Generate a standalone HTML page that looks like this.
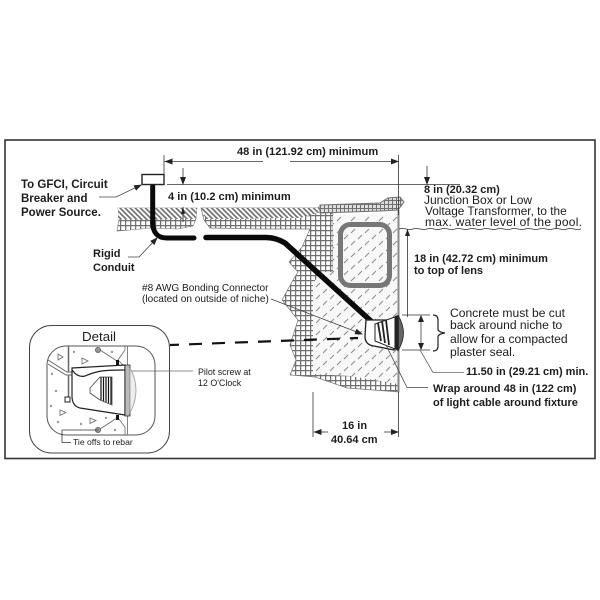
<!DOCTYPE html>
<html><head><meta charset="utf-8"><style>
html,body{margin:0;padding:0;background:#fff}
svg{display:block;filter:blur(.3px)}
text{font-family:"Liberation Sans",sans-serif;fill:#1c1c1c}
.b{font-weight:bold}
</style></head><body>
<svg width="600" height="600" viewBox="0 0 600 600" xmlns="http://www.w3.org/2000/svg">
<defs>
<pattern id="grid" width="5" height="5" patternUnits="userSpaceOnUse">
<rect width="5" height="5" fill="#fff"/><path d="M0 .6H5M.6 0V5" stroke="#707070" stroke-width="1.300"/>
</pattern>
<pattern id="grid2" width="4" height="4" patternUnits="userSpaceOnUse">
<rect width="4" height="4" fill="#ddd"/><path d="M0 .5H4M.5 0V4" stroke="#707070" stroke-width="1"/>
</pattern>
<pattern id="hatch" width="3.600" height="3.600" patternUnits="userSpaceOnUse" patternTransform="rotate(45)">
<rect width="3.600" height="3.600" fill="#fff"/><path d="M0 1H3.600" stroke="#707070" stroke-width="1.700"/>
</pattern>
<pattern id="dash" width="14" height="12" patternUnits="userSpaceOnUse">
<rect width="14" height="12" fill="#f8f8f8"/><path d="M1 5l4-4M8 11l4-4" stroke="#8a8a8a" stroke-width="1"/>
</pattern>
<marker id="a" markerWidth="8" markerHeight="6" refX="7" refY="3" orient="auto" markerUnits="userSpaceOnUse"><path d="M0 0L8 3L0 6z" fill="#222"/></marker>
</defs>

<rect width="600" height="600" fill="#fff"/>
<rect x="5" y="140" width="590" height="318.500" fill="#fff" stroke="#333" stroke-width="1.600"/>

<!-- deck left -->
<path d="M118 208H197L196 219L193 226L178 229L150 228L130 230L117 231L119 219Z" fill="url(#grid)" stroke="#777" stroke-width=".6"/>
<path d="M118 208H197L196 219L170 219L150 220L118 219Z" fill="url(#hatch)"/>
<!-- deck right + concrete -->
<path d="M201 208H318L333 214V370H399V392L347 388L315 377L290 375L296 360L290 345L298 320L282 300L293 280L298 272L289 262L297 253L302 247L310 229L260 229L210 228L204 220Z" fill="url(#grid)" stroke="#777" stroke-width=".7"/>
<path d="M201 208H318V205L321 212L300 218L280 218L240 219L206 219Z" fill="url(#hatch)"/>
<!-- shell -->
<path d="M333 215H398V384L350 376L313 374V283L322 272H333Z" fill="url(#dash)"/>
<path d="M320 205L380 203L388 198L400 197L404 202L398 210L380 211L320 213Z" fill="url(#grid2)" stroke="#707070" stroke-width="1"/>
<path d="M398.500 210V392" stroke="#888" stroke-width="2"/>
<!-- window -->
<rect x="340.500" y="224.500" width="49" height="61" rx="10" fill="url(#dash)" stroke="#777" stroke-width="5"/>

<!-- conduit -->
<path d="M152.700 186V222Q152.700 238 167 238H194" fill="none" stroke="#0a0a0a" stroke-width="5" stroke-linecap="round"/>
<path d="M206 237.500H266Q276 237.500 285 243L372 322" fill="none" stroke="#0a0a0a" stroke-width="5.500" stroke-linecap="round"/>

<!-- niche -->
<path d="M366 320H394V350L374 346Q365 345 365 336Z" fill="#fff" stroke="#222" stroke-width="1.300"/>
<path d="M375 324L395 317V349L375 341Z" fill="#fff" stroke="#222" stroke-width="1"/>
<path d="M378 323L381 341M382 321L385 343M386 320L389 345" stroke="#222" stroke-width="1.800" fill="none"/>
<path d="M395 316L398 315V351L395 349Z" fill="#222"/>
<path d="M398.500 316Q403.500 325 403.500 333Q403.500 341 398.500 350Z" fill="#666" stroke="#222" stroke-width=".8"/>

<!-- junction box -->
<rect x="142" y="174.500" width="22" height="10" fill="#fff" stroke="#222" stroke-width="1.400"/>

<!-- dimension lines -->
<g fill="none" stroke="#333" stroke-width=".8">
<path d="M164 155V184"/>
<path d="M164.500 161.500H263"/>
<path d="M290 161.500H398" marker-end="url(#a)"/>
<path d="M398.500 155V215"/>
<path d="M167 184.500H460"/>
<path d="M183 168V184" marker-end="url(#a)"/>
<path d="M183 207V222"/>
<path d="M427 166V184" marker-end="url(#a)"/>
<path d="M407.500 229V317"/>
<path d="M399 229q3 -1 7 0t7 0t7 0t7 0t7 0t7 0t7 0t7 0t7 0t7 0t7 0t7 0t7 0t7 0t7 0t7 0t7 0t7 0t7 0t7 0t7 0t7 0t7 0t7 0t7 0t7 0"/>
<path d="M402 315H430M402 350H430"/>
<path d="M313 392V437M398.500 392V437"/>
<path d="M314 432H328"/>
<path d="M384 432H398" marker-end="url(#a)"/>
</g>
<path d="M164.500 161.500l8-3v6z M313.500 432l8-3v6z M183 207l-2 7h4z M407.500 229l-2.500 7h5z" fill="#222"/>
<path d="M421 316V349" stroke="#888" stroke-width="1.300"/>
<path d="M421 315l-3 7h6zM421 350l-3-7h6z" fill="#222"/>
<!-- brace -->
<path d="M433 315q5 0 5 5v9q0 3 7 4q-7 1-7 4v9q0 5-5 5" fill="none" stroke="#222" stroke-width="1.200"/>

<!-- leaders -->
<g fill="none" stroke="#444" stroke-width=".8">
<path d="M99 197H116L141 185" marker-end="url(#a)"/>
<path d="M128 257H139L157 238" marker-end="url(#a)"/>
<path d="M271 299L362 334" marker-end="url(#a)"/>
<path d="M420 350L433 372.500H464" stroke="#666"/>
<path d="M386 345L407 387.500H428"/>
</g>
<!-- dashed line -->
<path d="M170 345L358 338" fill="none" stroke="#111" stroke-width="2.200" stroke-dasharray="13 10" stroke-dashoffset="4"/>

<!-- detail -->
<rect x="29.500" y="325.500" width="140" height="127.500" rx="22" fill="#fff" stroke="#444" stroke-width="1"/>
<rect x="47" y="346" width="108" height="89" rx="19" fill="#fff" stroke="#555" stroke-width="1"/>
<path d="M68.500 346V400" stroke="#666" stroke-width="1.500"/>
<path d="M48 360L67 372H72V375H66L48 364" fill="#fff" stroke="#666" stroke-width="1"/>
<path d="M125 346V350L118 360L125 367M118 418L125 427V435" fill="none" stroke="#666" stroke-width=".8"/>
<path d="M127.500 365V346M127.500 414V435" stroke="#666" stroke-width=".8"/>
<path d="M100 350L117 361M100 429L117 418" stroke="#666" stroke-width=".8"/>
<circle cx="98" cy="350" r="2.500" fill="#999" stroke="#666"/>
<circle cx="98" cy="430" r="2.500" fill="#999" stroke="#666"/>
<path d="M116 360h3v5h-3zM116 415h3v5h-3z" fill="#111"/>
<path d="M72 368L125 365V415L80 408Q72 406 72 396Z" fill="#fff" stroke="#222" stroke-width="1.200"/>
<path d="M72 370Q78 378 85 376Q92 373 97 372Q103 370 125 370" fill="none" stroke="#222" stroke-width="1.200"/>
<path d="M90 388L100 377H112V405L100 400L90 393Z" fill="#fff" stroke="#444" stroke-width=".8"/>
<path d="M101 377V400M103.500 377V401M106 377V402M108.500 377V403M111 377V404" stroke="#111" stroke-width="1.200"/>
<path d="M125 365H130V416H125Z" fill="#bbb" stroke="#222" stroke-width=".8"/>
<path d="M130 368Q142 390 130 413Z" fill="#eee" stroke="#999" stroke-width=".8"/>
<rect x="65" y="397" width="5" height="5" fill="#fff" stroke="#222"/>
<g fill="none" stroke="#666" stroke-width=".8">
<path d="M58 354l5 3l-5 3zM82 358l6 3l-6 3zM60 410l6 2.500l-6 3zM90 418l6 2.500l-6 3z"/>
</g>
<g fill="#999"><circle cx="74" cy="352" r="1.200"/><circle cx="112" cy="352" r="1.200"/><circle cx="52" cy="374" r="1.200"/><circle cx="56" cy="391" r="1.200"/><circle cx="51" cy="406" r="1.200"/><circle cx="58" cy="422" r="1.200"/><circle cx="81" cy="424" r="1.200"/><circle cx="106" cy="418" r="1.200"/><circle cx="115" cy="430" r="1.200"/></g>
<path d="M132 371H193" stroke="#666" stroke-width=".8" fill="none"/>
<path d="M98 430H62V442.500H71" stroke="#333" stroke-width=".8" fill="none"/>
<text x="82" y="341" font-size="13.300">Detail</text>
<text x="198" y="375" font-size="8.900">Pilot screw at</text>
<text x="198" y="386" font-size="8.900">12 O'Clock</text>
<text x="73" y="445" font-size="8.600">Tie offs to rebar</text>

<!-- labels -->
<text x="237" y="155" font-size="11.100" class="b">48 in (121.92 cm) minimum</text>
<text x="21" y="188" font-size="11.500" class="b">To GFCI, Circuit</text>
<text x="21" y="202" font-size="11.500" class="b">Breaker and</text>
<text x="21" y="216" font-size="11.500" class="b">Power Source.</text>
<text x="168" y="200" font-size="11.100" class="b">4 in (10.2 cm) minimum</text>
<text x="93" y="257" font-size="11" class="b">Rigid</text>
<text x="93" y="271" font-size="11" class="b">Conduit</text>
<text x="142" y="291" font-size="10.100">#8 AWG Bonding Connector</text>
<text x="142" y="302" font-size="10.100">(located on outside of niche)</text>
<text x="424" y="193" font-size="11" class="b">8 in (20.32 cm)</text>
<text x="424" y="204" font-size="12">Junction Box or Low</text>
<text x="425" y="215" font-size="11.800">Voltage Transformer, to the</text>
<text x="425" y="226" font-size="12" textLength="157">max. water level of the pool.</text>
<text x="414" y="262" font-size="11" class="b">18 in (42.72 cm) minimum</text>
<text x="414" y="274" font-size="11" class="b">to top of lens</text>
<text x="450" y="317" font-size="12.100">Concrete must be cut</text>
<text x="450" y="329" font-size="12.100">back around niche to</text>
<text x="450" y="343" font-size="12.100">allow for a compacted</text>
<text x="450" y="356" font-size="12.100">plaster seal.</text>
<text x="466" y="375" font-size="11" class="b">11.50 in (29.21 cm) min.</text>
<text x="433" y="392" font-size="11" class="b">Wrap around 48 in (122 cm)</text>
<text x="433" y="406" font-size="11" class="b">of light cable around fixture</text>
<text x="342" y="429" font-size="11" class="b">16 in</text>
<text x="331" y="443" font-size="11" class="b">40.64 cm</text>
</svg>
</body></html>
